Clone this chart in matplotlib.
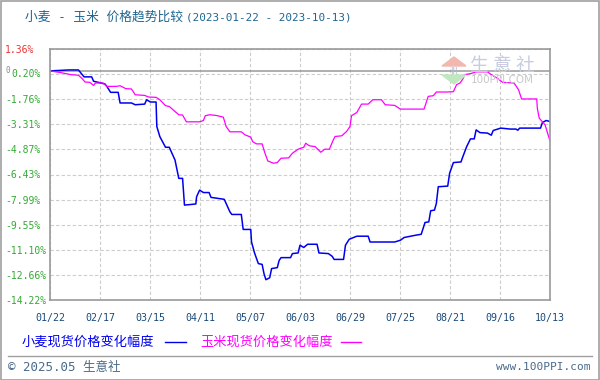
import numpy as np
import matplotlib.pyplot as plt
from matplotlib.patches import Rectangle, Polygon

plt.rcParams['font.family'] = ['Noto Sans CJK SC', 'DejaVu Sans']

# 数据: 自 2023-01-22 起的天数, 涨跌幅(%)
title_cn = '小麦 - 玉米 价格趋势比较'
title_date = '(2023-01-22 - 2023-10-13)'
x_labels = ['01/22', '02/17', '03/15', '04/11', '05/07', '06/03',
            '06/29', '07/25', '08/21', '09/16', '10/13']
y_labels = ['-14.22%', '-12.66%', '-11.10%', '-9.55%', '-7.99%', '-6.43%',
            '-4.87%', '-3.31%', '-1.76%', '0.20%', '1.36%']
wheat_name = '小麦现货价格变化幅度'
corn_name = '玉米现货价格变化幅度'

wheat_day = [0, 10, 15, 17, 18, 22, 23, 29, 30, 32, 36, 37, 43, 45, 50, 51, 53, 56,
             56.4, 58, 61, 63, 64, 66, 68, 70, 71, 77, 77.4, 79, 81, 84, 85, 92, 95, 96,
             101, 102, 106, 106.4, 108, 110, 112, 113, 114, 116, 117, 120, 121, 122, 127,
             128, 131, 132, 134, 136, 141, 142, 147, 149, 150, 155, 156, 158, 162, 168,
             169, 182, 185, 187, 193, 196, 197, 198, 200, 201, 203, 204, 205, 210, 211,
             213, 217, 218, 220, 222, 224, 225, 227, 231, 233, 234, 238, 243, 246, 247,
             248, 259, 260, 262, 264]
wheat_chg = [0, 0.06, 0.06, -0.23, -0.37, -0.37, -0.64, -0.81, -0.96, -1.33, -1.33,
             -1.99, -1.99, -2.10, -2.06, -1.79, -1.93, -1.93, -3.45, -4.08, -4.74, -4.74,
             -5.01, -5.53, -6.67, -6.67, -8.33, -8.26, -7.81, -7.40, -7.55, -7.55, -7.85,
             -7.97, -8.75, -8.91, -8.91, -9.84, -9.84, -10.62, -11.30, -11.96, -12.01,
             -12.59, -12.96, -12.84, -12.27, -12.21, -11.76, -11.59, -11.59, -11.34,
             -11.30, -10.82, -10.96, -10.76, -10.76, -11.30, -11.34, -11.51, -11.70,
             -11.70, -10.82, -10.45, -10.26, -10.26, -10.62, -10.62, -10.51, -10.34,
             -10.20, -10.14, -9.78, -9.41, -9.37, -8.68, -8.64, -8.22, -7.19, -7.15,
             -6.35, -5.69, -5.65, -5.32, -4.70, -4.22, -4.22, -3.66, -3.83, -3.86, -3.99,
             -3.70, -3.55, -3.61, -3.61, -3.68, -3.55, -3.55, -3.20, -3.08, -3.14]

corn_day = [0, 5, 11, 15, 17, 18.5, 21, 23, 24, 28, 30, 35, 37, 40, 43, 45, 50, 52, 56,
            58, 61, 63, 66, 68, 70, 72, 79, 81, 82, 84.5, 88, 91.5, 93, 95, 101, 103, 106,
            107, 109, 112, 113.5, 115, 118, 120, 122, 126, 128, 131, 134, 135, 137, 140,
            143, 145, 147.5, 149.6, 150.5, 154, 156.6, 158.4, 159.2, 162, 164.5, 168,
            170.4, 175, 177, 182, 185, 197.5, 199.7, 202.4, 204, 209.5, 213, 214.7, 216.5,
            218, 219, 222, 225, 231, 233, 236, 239, 245, 247.4, 249, 257, 257.3, 258.3,
            261.4, 263, 264]
corn_chg = [0, -0.09, -0.23, -0.27, -0.48, -0.69, -0.71, -0.90, -0.75, -0.75, -0.96,
            -0.96, -0.92, -1.10, -1.12, -1.48, -1.52, -1.62, -1.64, -1.79, -2.16, -2.21,
            -2.52, -2.72, -2.74, -3.16, -3.16, -3.08, -2.78, -2.72, -2.77, -2.87, -3.45,
            -3.78, -3.78, -3.97, -4.11, -4.39, -4.53, -4.53, -5.11, -5.59, -5.73, -5.69,
            -5.42, -5.40, -5.11, -4.86, -4.74, -4.49, -4.65, -4.70, -5.05, -4.86, -4.86,
            -4.28, -4.07, -4.03, -3.76, -3.45, -2.78, -2.58, -2.06, -2.06, -1.79, -1.79,
            -2.10, -2.14, -2.37, -2.37, -1.58, -1.54, -1.31, -1.31, -1.29, -0.85, -0.75,
            -0.50, -0.23, -0.17, -0.06, -0.06, -0.23, -0.44, -0.71, -0.75, -1.17, -1.74,
            -1.74, -2.31, -2.93, -3.35, -3.97, -4.34]

W, H = 600, 380
fig = plt.figure(figsize=(6, 3.8), dpi=100)
fig.patches.append(Rectangle((0.5 / W, 0.5 / H), 1 - 1.5 / W, 1 - 1.5 / H, transform=fig.transFigure,
                             fill=False, edgecolor='#a0a0a0', lw=1.2))

ax = fig.add_axes([50 / W, 1 - 300 / H, 500 / W, 251 / H])
ax.set_xlim(0, 264)
ax.set_ylim(-14.22, 1.36)
ax.set_xticks(np.linspace(0, 264, 11))
ax.set_xticklabels(x_labels, family='DejaVu Sans Mono', fontsize=7.2, color='#1a4a7a')
y_pos = np.linspace(-14.22, 1.36, 11)
ax.set_yticks(y_pos)
ax.set_yticklabels(y_labels, family='DejaVu Sans Mono', fontsize=7.0, color='#33aa33', ha='left')
ylab = ax.get_yticklabels()
ylab[-1].set_color('#ee3333')
ylab[9].set_visible(False)
ax.tick_params(length=0)
ax.tick_params(axis='y', pad=32.4)
ax.tick_params(axis='x', pad=9)
ax.grid(True, color='#cccccc', linestyle=(0, (3, 2)), lw=0.8)
for s in ax.spines.values():
    s.set_color('#999999')
    s.set_linewidth(1.2)
ax.axhline(0, color='#999999', lw=1.1)

# -0.20% 的刻度标签前有零线标记
ax.text(-39 / 500, y_pos[9], y_labels[9], transform=ax.get_yaxis_transform(), family='DejaVu Sans Mono',
        fontsize=7.0, color='#33aa33', ha='left', va='center')
ax.text(-45 / 500, 0.05, '0', transform=ax.get_yaxis_transform(), family='DejaVu Sans Mono',
        fontsize=5.5, color='#888888', ha='left', va='center')

ax.plot(wheat_day, wheat_chg, color='#0000ee', lw=1.1)
ax.plot(corn_day, corn_chg, color='#ff00ff', lw=0.9)

# 水印
fig.text(502 / W, 1 - 65 / H, '生 意 社', fontsize=13.5, color='#c8cce0', ha='center', va='center')
fig.text(502 / W, 1 - 80 / H, '100PPI.COM', fontsize=7.5, color='#c8c8c8', ha='center', va='center',
         family='DejaVu Sans')
fig.patches.append(Polygon([[442 / W, 1 - 66 / H], [454 / W, 1 - 57 / H], [466 / W, 1 - 66 / H]],
                           transform=fig.transFigure, color='#f2b8b0'))
fig.patches.append(Polygon([[442 / W, 1 - 75 / H], [454 / W, 1 - 84 / H], [466 / W, 1 - 75 / H]],
                           transform=fig.transFigure, color='#c0e8c0'))
fig.text(454 / W, 1 - 71 / H, 'III', fontsize=6, color='#b0b8d0', ha='center', va='center', family='DejaVu Sans')

# 标题
fig.text(25 / W, 1 - 17 / H, title_cn, fontsize=9.2, color='#1f6590', va='center',
         family=['DejaVu Sans Mono', 'Noto Sans CJK SC'])
fig.text(186 / W, 1 - 17 / H, title_date, fontsize=7.9, color='#1f6590', va='center', family='DejaVu Sans Mono')

# 图例
fig.text(22 / W, 1 - 342 / H, wheat_name, fontsize=9.5, color='#0000ee', va='center')
fig.lines.append(plt.Line2D([165 / W, 186 / W], [1 - 342 / H] * 2, transform=fig.transFigure, color='#0000ee', lw=1))
fig.text(200 / W, 1 - 342 / H, corn_name, fontsize=9.5, color='#ff00ff', va='center')
fig.lines.append(plt.Line2D([341 / W, 361 / W], [1 - 342 / H] * 2, transform=fig.transFigure, color='#ff00ff', lw=1))

# 页脚
fig.lines.append(plt.Line2D([8 / W, 592 / W], [1 - 356 / H] * 2, transform=fig.transFigure, color='#a0a0a0', lw=1))
fig.text(8 / W, 1 - 367 / H, '© 2025.05 生意社', fontsize=9, color='#4a6a8a', va='center',
         family=['DejaVu Sans Mono', 'Noto Sans CJK SC'])
fig.text(590 / W, 1 - 367 / H, 'www.100PPI.com', fontsize=8, color='#4a6a8a', va='center', ha='right',
         family='DejaVu Sans Mono')

fig.savefig('out.png', dpi=100)
